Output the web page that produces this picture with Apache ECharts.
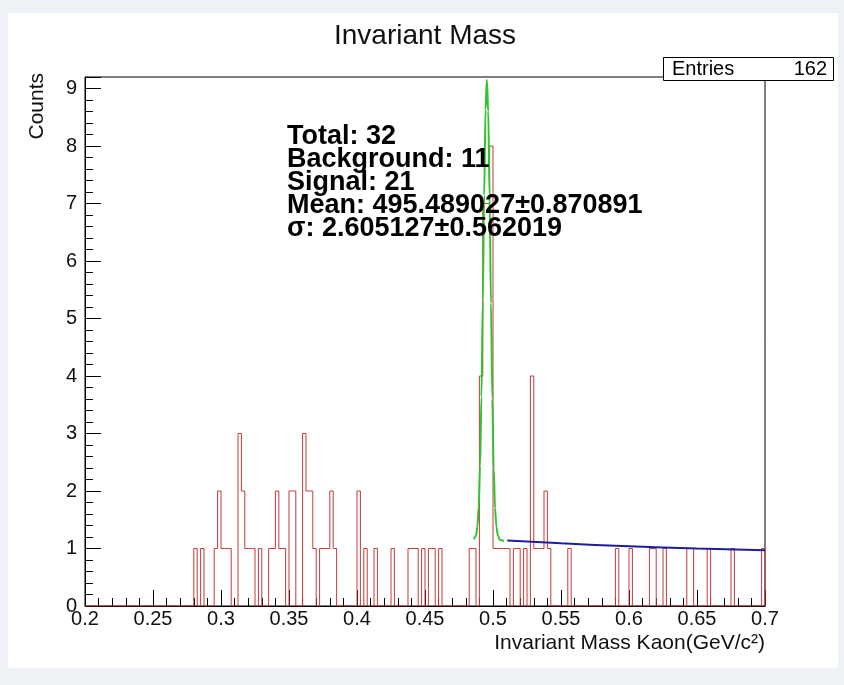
<!DOCTYPE html>
<html><head><meta charset="utf-8">
<script src="https://cdn.jsdelivr.net/npm/echarts@6/dist/echarts.min.js"></script>
<style>
html,body{margin:0;padding:0;background:#eef2f7;width:844px;height:685px;overflow:hidden}
#panel{position:absolute;left:8px;top:13px;width:830px;height:655px;background:#fff}
#chart{position:absolute;left:0;top:0;width:844px;height:685px}
</style></head><body>
<div id="panel"></div><div id="chart"></div>
<script>
// ---- data ----
const xMin = 0.2, xMax = 0.7, binWidth = 0.0025;
const histBinLowEdges = [0.28,0.285,0.295,0.2975,0.30,0.3025,0.305,0.3125,0.315,0.3175,0.32,0.3225,0.3275,
  0.335,0.3375,0.34,0.3425,0.345,0.35,0.3525,0.36,0.3625,0.365,0.3675,0.3725,0.375,0.3775,0.38,0.3825,
  0.40,0.405,0.4125,0.425,0.4375,0.44,0.4425,0.4475,0.4525,0.455,0.46,0.4825,0.485,
  0.49,0.4925,0.495,0.4975,0.5,0.5025,0.505,0.5075,0.51,0.515,0.5175,0.5225,0.5275,0.53,0.5325,0.535,0.5375,0.54,
  0.555,0.59,0.60,0.615,0.6175,0.625,0.6425,0.645,0.6575,0.675,0.6975];
const histBinCounts = [1,1,1,2,1,1,1,3,2,1,1,1,1,
  1,1,2,1,1,2,2,3,2,2,1,1,1,1,2,1,
  2,1,1,1,1,1,1,1,1,1,1,1,1,
  4,7,7,8,1,1,1,1,1,1,1,1,4,1,1,1,2,1,
  1,1,1,1,1,1,1,1,1,1,1];
const fitX = [0.4860,0.4875,0.4885,0.4895,0.4905,0.4915,0.4925,0.4935,0.4945,0.4955,0.4965,0.4975,0.4985,0.4995,0.5005,0.5015,0.5025,0.5035,0.5050,0.5080];
const fitY = [1.16,1.22,1.38,1.72,2.43,3.64,5.31,7.15,8.63,9.15,8.60,7.10,5.26,3.60,2.40,1.70,1.38,1.23,1.15,1.13];
const bgX = [0.5105,0.55,0.60,0.65,0.70];
const bgY = [1.14,1.09,1.04,1.00,0.97];
const statLines = ['Total: 32','Background: 11','Signal: 21','Mean: 495.489027\u00b10.870891','\u03c3: 2.605127\u00b10.562019'];
const entriesLabel = 'Entries', entriesValue = '162';
const yMax = 9.2;

// ---- build ----
const FONT = '"Liberation Sans", Arial, Helvetica, sans-serif';
const nBins = Math.round((xMax - xMin) / binWidth);
const counts = new Array(nBins).fill(0);
histBinLowEdges.forEach((e, i) => { counts[Math.round((e - xMin) / binWidth)] = histBinCounts[i]; });
const histLine = [];
for (let k = 0; k < nBins; k++) histLine.push([+(xMin + k * binWidth).toFixed(5), counts[k]]);
histLine.push([xMax, counts[nBins - 1]]);
histLine.push([xMax, 0]);
const fitData = fitX.map((x, i) => [x, fitY[i]]);
const bgData = bgX.map((x, i) => [x, bgY[i]]);
const yMinor = [];
for (let v = 0.2; v < yMax + 1e-9; v += 0.2) { const r = +v.toFixed(2); if (Math.abs(r - Math.round(r)) > 1e-6) yMinor.push(r); }

const statGraphics = statLines.map((t, i) => ({
  type: 'text', x: 287, y: 137 + 23 * i, z: 50,
  style: { text: t, fontSize: 27, fontWeight: 'bold', fontFamily: FONT, fill: '#000', align: 'left', verticalAlign: 'middle' }
}));

const chart = echarts.init(document.getElementById('chart'), null, { renderer: 'canvas' });
chart.setOption({
  animation: false,
  backgroundColor: 'transparent',
  grid: { left: 85, right: 79, top: 77, bottom: 79, show: true, borderColor: '#000', borderWidth: 1, backgroundColor: 'transparent' },
  xAxis: {
    type: 'value', min: xMin, max: xMax, interval: 0.05,
    axisLine: { show: true, onZero: false, lineStyle: { color: '#000', width: 1 } },
    axisTick: { show: true, inside: true, length: 16, lineStyle: { color: '#000' } },
    minorTick: { show: true, splitNumber: 5, length: 8, lineStyle: { color: '#000' } },
    splitLine: { show: false },
    axisLabel: { fontSize: 20, color: '#111', margin: 3, fontFamily: FONT }
  },
  yAxis: [{
    type: 'value', min: 0, max: yMax, interval: 1,
    axisLine: { show: true, onZero: false, lineStyle: { color: '#000', width: 1 } },
    axisTick: { show: true, inside: true, length: 16, lineStyle: { color: '#000' } },
    splitLine: { show: false },
    axisLabel: { fontSize: 20, color: '#111', margin: 8, fontFamily: FONT,
      formatter: v => (Math.abs(v - Math.round(v)) < 1e-6 ? String(Math.round(v)) : '') }
  }, {
    type: 'value', min: 0, max: yMax, position: 'left',
    axisLine: { show: false },
    axisTick: { show: true, inside: true, length: 8, customValues: yMinor, lineStyle: { color: '#000' } },
    axisLabel: { show: false }, splitLine: { show: false }
  }],
  series: [
    { type: 'line', data: histLine, step: 'end', symbol: 'none', silent: true, z: 3,
      lineStyle: { color: '#c33a3a', width: 1 } },
    { type: 'line', data: fitData, smooth: 0.35, smoothMonotone: 'x', symbol: 'none', silent: true, z: 4,
      lineStyle: { color: '#2fc42f', width: 2 } },
    { type: 'line', data: bgData, smooth: true, symbol: 'none', silent: true, z: 4,
      lineStyle: { color: '#1d1d9e', width: 2 } }
  ],
  graphic: [
    { type: 'text', x: 425, y: 36, z: 50, style: { text: 'Invariant Mass', fontSize: 28, fontFamily: FONT, fill: '#111', align: 'center', verticalAlign: 'middle' } },
    { type: 'text', x: 37, y: 73, rotation: Math.PI / 2, z: 50, style: { text: 'Counts', fontSize: 21, fontFamily: FONT, fill: '#111', align: 'right', verticalAlign: 'middle' } },
    { type: 'text', x: 765, y: 643, z: 50, style: { text: 'Invariant Mass Kaon(GeV/c\u00b2)', fontSize: 21, fontFamily: FONT, fill: '#111', align: 'right', verticalAlign: 'middle' } },
    { type: 'rect', shape: { x: 663.5, y: 57.5, width: 170, height: 23 }, z: 60, style: { fill: '#fff', stroke: '#000', lineWidth: 1 } },
    { type: 'text', x: 672, y: 69, z: 61, style: { text: entriesLabel, fontSize: 20, fontFamily: FONT, fill: '#000', align: 'left', verticalAlign: 'middle' } },
    { type: 'text', x: 827, y: 69, z: 61, style: { text: entriesValue, fontSize: 20, fontFamily: FONT, fill: '#000', align: 'right', verticalAlign: 'middle' } }
  ].concat(statGraphics)
});
</script>
</body></html>
